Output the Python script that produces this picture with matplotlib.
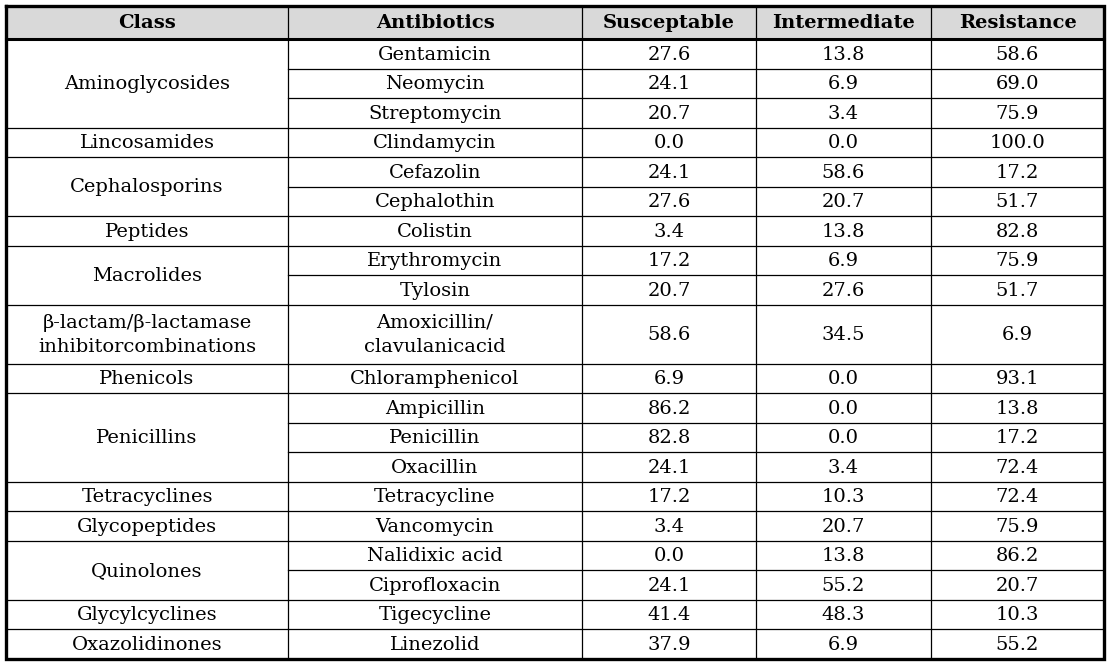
import matplotlib.pyplot as plt
import numpy as np

# table content
headers = ["Class", "Antibiotics", "Susceptable", "Intermediate", "Resistance"]
classes = ["Aminoglycosides", "Lincosamides", "Cephalosporins", "Peptides",
           "Macrolides", "\u03b2-lactam/\u03b2-lactamase\ninhibitorcombinations",
           "Phenicols", "Penicillins", "Tetracyclines", "Glycopeptides",
           "Quinolones", "Glycylcyclines", "Oxazolidinones"]
class_sizes = [3, 1, 2, 1, 2, 1, 1, 3, 1, 1, 2, 1, 1]
antibiotics = ["Gentamicin", "Neomycin", "Streptomycin", "Clindamycin",
               "Cefazolin", "Cephalothin", "Colistin", "Erythromycin", "Tylosin",
               "Amoxicillin/\nclavulanicacid", "Chloramphenicol", "Ampicillin",
               "Penicillin", "Oxacillin", "Tetracycline", "Vancomycin",
               "Nalidixic acid", "Ciprofloxacin", "Tigecycline", "Linezolid"]
susceptable = [27.6, 24.1, 20.7, 0.0, 24.1, 27.6, 3.4, 17.2, 20.7, 58.6,
               6.9, 86.2, 82.8, 24.1, 17.2, 3.4, 0.0, 24.1, 41.4, 37.9]
intermediate = [13.8, 6.9, 3.4, 0.0, 58.6, 20.7, 13.8, 6.9, 27.6, 34.5,
                0.0, 0.0, 0.0, 3.4, 10.3, 20.7, 13.8, 55.2, 48.3, 6.9]
resistance = [58.6, 69.0, 75.9, 100.0, 17.2, 51.7, 82.8, 75.9, 51.7, 6.9,
              93.1, 13.8, 17.2, 72.4, 72.4, 75.9, 86.2, 20.7, 10.3, 55.2]

# layout (pixels)
W, H = 1110, 666
col_x = [6, 288, 582, 756, 931, 1104]
top, head_bot, unit = 6, 39, 29.5
font = "DejaVu Serif"
fs = 14

fig = plt.figure(figsize=(W / 100, H / 100), dpi=100)
ax = fig.add_axes([0, 0, 1, 1])
ax.set_xlim(0, W)
ax.set_ylim(H, 0)
ax.axis("off")

# row edges from number of text lines
heights = [unit * (a.count("\n") + 1) for a in antibiotics]
edges = head_bot + np.concatenate([[0], np.cumsum(heights)])
bottom = edges[-1]

# header
ax.fill_between([col_x[0], col_x[-1]], top, head_bot, color="#d9d9d9", lw=0)
for i, h in enumerate(headers):
    ax.text((col_x[i] + col_x[i + 1]) / 2, (top + head_bot) / 2 + 1, h,
            ha="center", va="center", fontsize=fs, fontweight="bold", family=font)

# body rows
for r, name in enumerate(antibiotics):
    yc = (edges[r] + edges[r + 1]) / 2 + 1
    vals = [name, f"{susceptable[r]:.1f}", f"{intermediate[r]:.1f}", f"{resistance[r]:.1f}"]
    for c, v in enumerate(vals):
        ax.text((col_x[c + 1] + col_x[c + 2]) / 2, yc, v, ha="center", va="center",
                fontsize=fs, family=font, linespacing=1.45)
    if r > 0:
        ax.plot([col_x[1], col_x[-1]], [edges[r]] * 2, color="black", lw=0.9)

# class cells
start = 0
for name, n in zip(classes, class_sizes):
    y0, y1 = edges[start], edges[start + n]
    ax.text((col_x[0] + col_x[1]) / 2, (y0 + y1) / 2 + 1, name, ha="center",
            va="center", fontsize=fs, family=font, linespacing=1.45)
    if start > 0:
        ax.plot([col_x[0], col_x[1]], [y0] * 2, color="black", lw=0.9)
    start += n

# vertical lines
for x in col_x[1:-1]:
    ax.plot([x, x], [top, bottom], color="black", lw=0.9)

# thick borders
ax.plot([col_x[0], col_x[-1]], [head_bot, head_bot], color="black", lw=2.2)
ax.plot([col_x[0], col_x[-1], col_x[-1], col_x[0], col_x[0]],
        [top, top, bottom, bottom, top], color="black", lw=2.4,
        solid_joinstyle="miter")

fig.savefig("out.png", dpi=100)
plt.close(fig)
